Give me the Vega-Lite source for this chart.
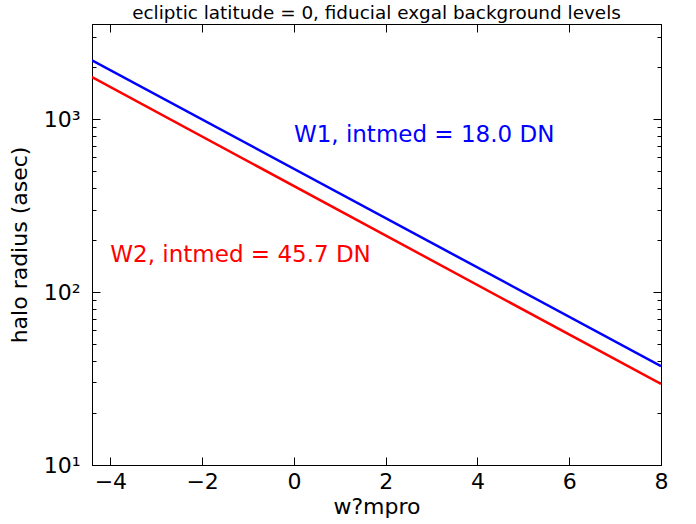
{
  "$schema": "https://vega.github.io/schema/vega-lite/v6.json",
  "autosize": {"type": "none"},
  "width": 569,
  "height": 441,
  "padding": {"left": 92, "top": 24, "right": 35, "bottom": 59},
  "background": "white",
  "title": {
    "text": "ecliptic latitude = 0, fiducial exgal background levels",
    "font": "DejaVu Sans",
    "fontSize": 18.4,
    "fontWeight": "normal",
    "color": "black",
    "offset": 1
  },
  "config": {
    "view": {"stroke": "black", "strokeWidth": 1},
    "axis": {
      "domainColor": "black",
      "tickColor": "black",
      "labelColor": "black",
      "titleColor": "black",
      "labelFont": "DejaVu Sans",
      "titleFont": "DejaVu Sans",
      "labelFontSize": 22,
      "titleFontSize": 22,
      "titleFontWeight": "normal",
      "grid": false
    }
  },
  "datasets": {
    "curves": [
      {"mag": -4.4, "radius": 2190, "band": "W1"},
      {"mag": 8, "radius": 37.3, "band": "W1"},
      {"mag": -4.4, "radius": 1750, "band": "W2"},
      {"mag": 8, "radius": 29.4, "band": "W2"}
    ],
    "notes": [
      {"mag": 0, "radius": 736, "band": "W1", "label": "W1, intmed = 18.0 DN"},
      {"mag": -4, "radius": 150, "band": "W2", "label": "W2, intmed = 45.7 DN"}
    ]
  },
  "encoding": {
    "x": {"field": "mag", "type": "quantitative", "scale": {"domain": [-4.4, 8], "nice": false, "zero": false}},
    "y": {"field": "radius", "type": "quantitative", "scale": {"type": "log", "domain": [10, 3548], "nice": false}},
    "color": {"field": "band", "type": "nominal", "scale": {"domain": ["W1", "W2"], "range": ["#0000ff", "#ff0000"]}, "legend": null}
  },
  "layer": [
    {
      "layer": [
        {
          "data": {"name": "curves"},
          "transform": [{"filter": "datum.band === 'W1'"}],
          "mark": {"type": "line", "strokeWidth": 2.5, "clip": true},
          "encoding": {
            "x": {"field": "mag", "type": "quantitative", "title": "w?mpro",
              "axis": {"orient": "bottom", "values": [-4, -2, 0, 2, 4, 6, 8], "tickSize": -8, "labelPadding": 14, "titlePadding": 4, "labelFlush": false, "labelExpr": "replace(datum.label, '-', '−')"}},
            "y": {"field": "radius", "type": "quantitative", "title": "halo radius (asec)",
              "axis": {
                "orient": "left",
                "values": [10, 20, 30, 40, 50, 60, 70, 80, 90, 100, 200, 300, 400, 500, 600, 700, 800, 900, 1000, 2000, 3000],
                "tickSize": {"condition": {"test": "datum.value === 10 || datum.value === 100 || datum.value === 1000", "value": -8}, "value": -4},
                "labelExpr": "datum.value === 10 ? '10¹' : datum.value === 100 ? '10²' : datum.value === 1000 ? '10³' : ''",
                "labelPadding": 20,
                "titlePadding": 12,
                "labelFlush": false,
                "labelOverlap": false
              }}
          }
        },
        {
          "data": {"name": "notes"},
          "mark": {"type": "text", "align": "left", "baseline": "alphabetic", "font": "DejaVu Sans", "fontSize": 23},
          "encoding": {"text": {"field": "label"}}
        }
      ]
    },
    {
      "data": {"name": "curves"},
      "transform": [{"filter": "datum.band === 'W2'"}],
      "mark": {"type": "line", "strokeWidth": 2.5, "clip": true},
      "encoding": {
        "x": {"field": "mag", "type": "quantitative",
          "axis": {"orient": "top", "values": [-4, -2, 0, 2, 4, 6, 8], "tickSize": -8, "labels": false, "title": null}},
        "y": {"field": "radius", "type": "quantitative",
          "axis": {
            "orient": "right",
            "values": [10, 20, 30, 40, 50, 60, 70, 80, 90, 100, 200, 300, 400, 500, 600, 700, 800, 900, 1000, 2000, 3000],
            "tickSize": {"condition": {"test": "datum.value === 10 || datum.value === 100 || datum.value === 1000", "value": -8}, "value": -4},
            "labels": false,
            "title": null
          }}
      }
    }
  ],
  "resolve": {"axis": {"x": "independent", "y": "independent"}}
}
